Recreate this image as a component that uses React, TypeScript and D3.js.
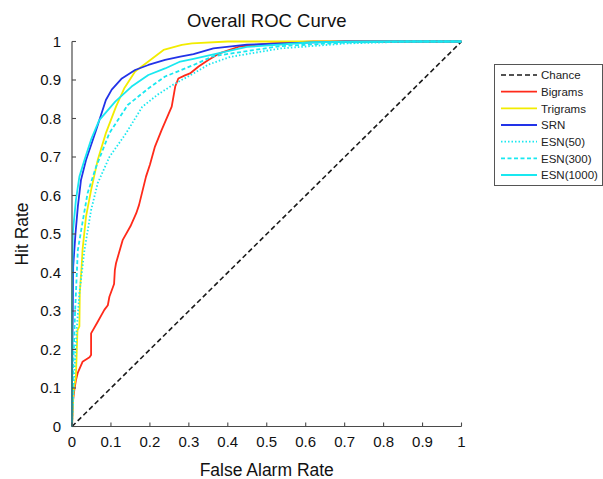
import React from "react";
import * as d3 from "d3";

type Pt = [number, number];

const tickValues = [0, 0.1, 0.2, 0.3, 0.4, 0.5, 0.6, 0.7, 0.8, 0.9, 1];
const tickLabels = ["0", "0.1", "0.2", "0.3", "0.4", "0.5", "0.6", "0.7", "0.8", "0.9", "1"];

const chance: Pt[] = [[0, 0], [1, 1]];

const bigrams: Pt[] = [
  [0, 0], [0.003, 0.07], [0.006, 0.095], [0.01, 0.12], [0.015, 0.14], [0.027, 0.168],
  [0.045, 0.18], [0.049, 0.186], [0.049, 0.242], [0.065, 0.27], [0.083, 0.303], [0.092, 0.315],
  [0.096, 0.337], [0.108, 0.37], [0.11, 0.406], [0.113, 0.424], [0.13, 0.484], [0.15, 0.52],
  [0.165, 0.554], [0.172, 0.575], [0.19, 0.649], [0.2, 0.68], [0.213, 0.727], [0.23, 0.77],
  [0.256, 0.831], [0.265, 0.883], [0.273, 0.904], [0.29, 0.912], [0.303, 0.917], [0.325, 0.935],
  [0.35, 0.952], [0.38, 0.97], [0.43, 0.987], [0.51, 0.995], [0.62, 1], [1, 1],
];

const trigrams: Pt[] = [
  [0, 0], [0.003, 0.08], [0.005, 0.1], [0.01, 0.129], [0.014, 0.25], [0.019, 0.26],
  [0.02, 0.347], [0.025, 0.42], [0.027, 0.458], [0.036, 0.545], [0.049, 0.614], [0.066, 0.692],
  [0.087, 0.762], [0.113, 0.831], [0.135, 0.88], [0.162, 0.922], [0.196, 0.948],
  [0.235, 0.978], [0.282, 0.991], [0.308, 0.995], [0.4, 1], [1, 1],
];

const srn: Pt[] = [
  [0, 0], [0, 0.1], [0.002, 0.3], [0.003, 0.415], [0.009, 0.502], [0.015, 0.571],
  [0.023, 0.64], [0.036, 0.692], [0.062, 0.77], [0.087, 0.848], [0.102, 0.875],
  [0.128, 0.904], [0.162, 0.926], [0.196, 0.939], [0.239, 0.952], [0.278, 0.961], [0.312, 0.967],
  [0.363, 0.982], [0.449, 0.992], [0.6, 0.997], [0.7, 1], [1, 1],
];

const esn50: Pt[] = [
  [0, 0], [0.005, 0.12], [0.012, 0.25], [0.019, 0.346], [0.032, 0.458], [0.049, 0.562],
  [0.066, 0.632], [0.096, 0.7], [0.139, 0.762], [0.18, 0.83], [0.22, 0.862], [0.26, 0.888],
  [0.312, 0.917], [0.35, 0.94], [0.406, 0.96], [0.535, 0.982], [0.706, 0.995],
  [0.877, 1], [1, 1],
];

const esn300: Pt[] = [
  [0, 0], [0.003, 0.15], [0.008, 0.3], [0.015, 0.458], [0.028, 0.536], [0.04, 0.606],
  [0.062, 0.675], [0.096, 0.762], [0.143, 0.835], [0.196, 0.878], [0.239, 0.909],
  [0.312, 0.939], [0.363, 0.962], [0.535, 0.988], [0.7, 0.997], [0.85, 1], [1, 1],
];

const esn1000: Pt[] = [
  [0, 0], [0, 0.3], [0.002, 0.502], [0.01, 0.588], [0.019, 0.649], [0.032, 0.692], [0.05, 0.748],
  [0.07, 0.796], [0.111, 0.844], [0.153, 0.883], [0.196, 0.913], [0.239, 0.93], [0.278, 0.948],
  [0.312, 0.955], [0.449, 0.986], [0.62, 0.998], [0.8, 1], [1, 1],
];

const seriesNames = ["Chance", "Bigrams", "Trigrams", "SRN", "ESN(50)", "ESN(300)", "ESN(1000)"];
const seriesData = [chance, bigrams, trigrams, srn, esn50, esn300, esn1000];
const seriesColors = ["#1a1a1a", "#ff2a1a", "#f2ec00", "#2233e8", "#19e8f0", "#19e8f0", "#19e8f0"];
const seriesDash = ["5,3", "", "", "", "1.5,2", "4,2.5", ""];

const W = 603;
const H = 479;
const X0 = 72, X1 = 461.5, Y0 = 426.5, Y1 = 41.5;
const FONT = "Liberation Sans, Arial, Helvetica, sans-serif";

export default function App() {
  const x = d3.scaleLinear().domain([0, 1]).range([X0, X1]);
  const y = d3.scaleLinear().domain([0, 1]).range([Y0, Y1]);
  const line = d3.line<Pt>().x((d) => x(d[0])).y((d) => y(d[1]));
  const axisColor = "#4a4a4a";

  const legX = 494, legY = 64, legW = 108, legH = 121;
  const rowY = (i: number) => 75 + i * 16.67;

  return (
    <svg width={W} height={H} style={{ position: "absolute", left: 0, top: 0, background: "#fff" }} fontFamily={FONT}>
      <rect width={W} height={H} fill="#fff" />
      <text x={(X0 + X1) / 2} y={27} textAnchor="middle" fontSize={18.5} fill="#111">Overall ROC Curve</text>

      {seriesData.map((d, i) => (
        <path key={i} d={line(d) || ""} fill="none" stroke={seriesColors[i]}
          strokeWidth={i === 0 ? 1.6 : 1.8} strokeDasharray={seriesDash[i] || undefined}
          strokeLinejoin="round" />
      ))}

      {/* axes */}
      <line x1={X0} y1={Y0} x2={X1} y2={Y0} stroke={axisColor} strokeWidth={1.2} />
      <line x1={X0} y1={Y0} x2={X0} y2={Y1} stroke={axisColor} strokeWidth={1.2} />
      {tickValues.map((t, i) => (
        <g key={"x" + i}>
          <line x1={x(t)} x2={x(t)} y1={Y0} y2={Y0 - 4} stroke={axisColor} strokeWidth={1.1} />
          <text x={x(t)} y={446.5} textAnchor="middle" fontSize={15} fill="#111">{tickLabels[i]}</text>
        </g>
      ))}
      {tickValues.map((t, i) => (
        <g key={"y" + i}>
          <line x1={X0} x2={X0 + 4} y1={y(t)} y2={y(t)} stroke={axisColor} strokeWidth={1.1} />
          <text x={61} y={y(t) + 5.3} textAnchor="end" fontSize={15} fill="#111">{tickLabels[i]}</text>
        </g>
      ))}
      <text x={(X0 + X1) / 2} y={475.5} textAnchor="middle" fontSize={17.5} fill="#111">False Alarm Rate</text>
      <text transform={`translate(28, ${(Y0 + Y1) / 2}) rotate(-90)`} textAnchor="middle" fontSize={17.5} fill="#111">Hit Rate</text>

      {/* legend */}
      <rect x={legX + 0.5} y={legY + 0.5} width={legW} height={legH} fill="#fff" stroke="#555" strokeWidth={1} />
      {seriesNames.map((n, i) => (
        <g key={"l" + i}>
          <line x1={501} x2={537} y1={rowY(i)} y2={rowY(i)} stroke={seriesColors[i]}
            strokeWidth={i === 0 ? 1.6 : 1.8} strokeDasharray={seriesDash[i] || undefined} />
          <text x={541} y={rowY(i) + 4.2} fontSize={11.5} fill="#222">{n}</text>
        </g>
      ))}
    </svg>
  );
}
